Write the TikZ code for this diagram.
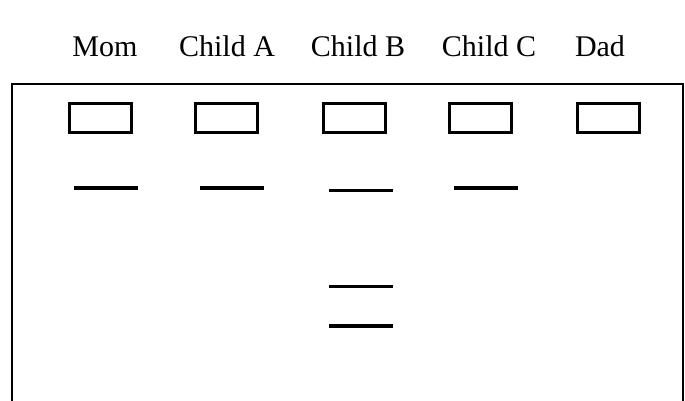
\documentclass[tikz,border=0pt]{standalone}
\usepackage{fontspec}
\setmainfont{Liberation Serif}
\usepackage{tikz}

\begin{document}
\begin{tikzpicture}[x=1pt,y=-1pt,
    lane/.style={anchor=base, inner sep=0pt, font=\fontsize{30}{34}\selectfont},
    well/.style={draw, line width=3pt, minimum width=62pt, minimum height=29pt, inner sep=0pt},
    band/.style={fill=black, minimum width=64pt, minimum height=4.5pt, inner sep=0pt},
    faint/.style={band, minimum height=3pt}]
  \useasboundingbox (0,0) rectangle (685,400);
  % gel frame, open at the bottom
  \coordinate (gelbl) at (12,420);
  \coordinate (geltl) at (12,84);
  \coordinate (geltr) at (683,84);
  \coordinate (gelbr) at (683,420);
  \draw[line width=2pt] (gelbl) -- (geltl) -- (geltr) -- (gelbr);
  % lane names
  \node[lane] (mom) at (105,56) {Mom};
  \node[lane] (childa) at (227,56) {Child A};
  \node[lane] (childb) at (358,56) {Child B};
  \node[lane] (childc) at (489,56) {Child C};
  \node[lane] (dad) at (600,56) {Dad};
  % wells
  \node[well] (wmom) at (100.5,118) {};
  \node[well] (wa) at (226,118) {};
  \node[well] (wb) at (354,118) {};
  \node[well] (wc) at (480,118) {};
  \node[well] (wdad) at (608.5,118) {};
  % bands
  \node[band] (bmom) at (106,188) {};
  \node[band] (ba) at (232,188) {};
  \node[faint] (bb1) at (360.5,190) {};
  \node[band] (bc) at (486,188) {};
  \node[faint] (bb2) at (360.5,286) {};
  \node[band, minimum height=3.5pt] (bb3) at (360.5,326) {};
\end{tikzpicture}
\end{document}
